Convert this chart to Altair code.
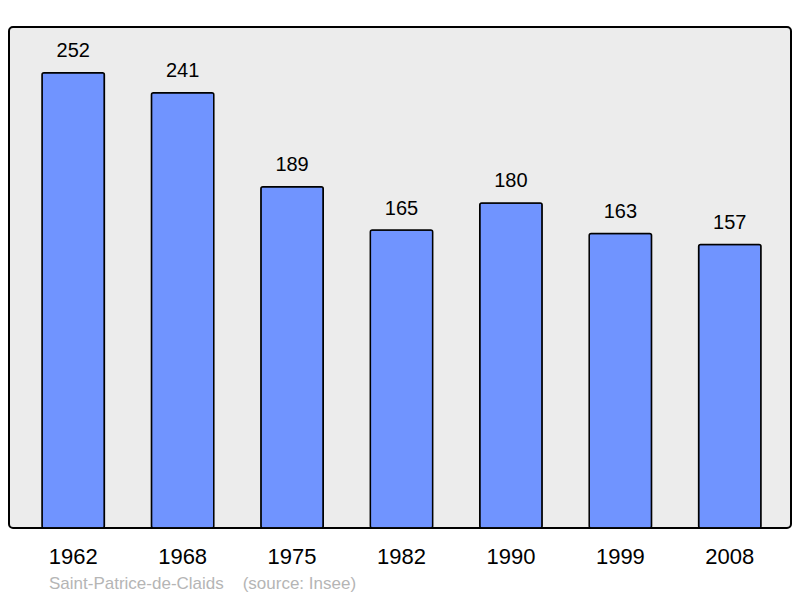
import altair as alt
import pandas as pd

years = ["1962", "1968", "1975", "1982", "1990", "1999", "2008"]
population = [252, 241, 189, 165, 180, 163, 157]
source_text = "Saint-Patrice-de-Claids\u00a0\u00a0\u00a0\u00a0(source: Insee)"

df = pd.DataFrame({"year": years, "pop": population})

xenc = alt.X("year:N", sort=years,
             scale=alt.Scale(range=[33, 752], paddingInner=0.43, paddingOuter=0),
             axis=alt.Axis(title=None, labelAngle=0, domain=False, ticks=False,
                           labelFontSize=22, labelFont="Liberation Sans",
                           labelColor="#000000", labelPadding=18))
yenc = alt.Y("pop:Q", scale=alt.Scale(domain=[0, 277.4], nice=False, zero=True),
             axis=None)

bars = alt.Chart(df).mark_bar(color="#7094ff", stroke="#000000", strokeWidth=1.5,
                              cornerRadius=2).encode(x=xenc, y=yenc)

labels = alt.Chart(df).mark_text(fontSize=20, font="Liberation Sans", color="#000000",
                                 baseline="middle", dy=-21.5).encode(
    x=alt.X("year:N", sort=years), y="pop:Q", text="pop:Q")

src = alt.Chart(pd.DataFrame({"t": [source_text]})).mark_text(
    fontSize=17, font="Liberation Sans", color="#b5b5b5", align="left",
    baseline="middle").encode(x=alt.value(40), y=alt.value(557), text="t:N")

chart = alt.layer(bars, labels, src).properties(
    width=782, height=501,
    autosize=alt.AutoSizeParams(type="none"),
    padding={"left": 1, "top": 19, "right": 1, "bottom": 70},
).configure_view(
    fill="#ececec", stroke="#000000", strokeWidth=2, cornerRadius=4
)

chart.save("out.html", embed_options={"renderer": "svg", "actions": False})
